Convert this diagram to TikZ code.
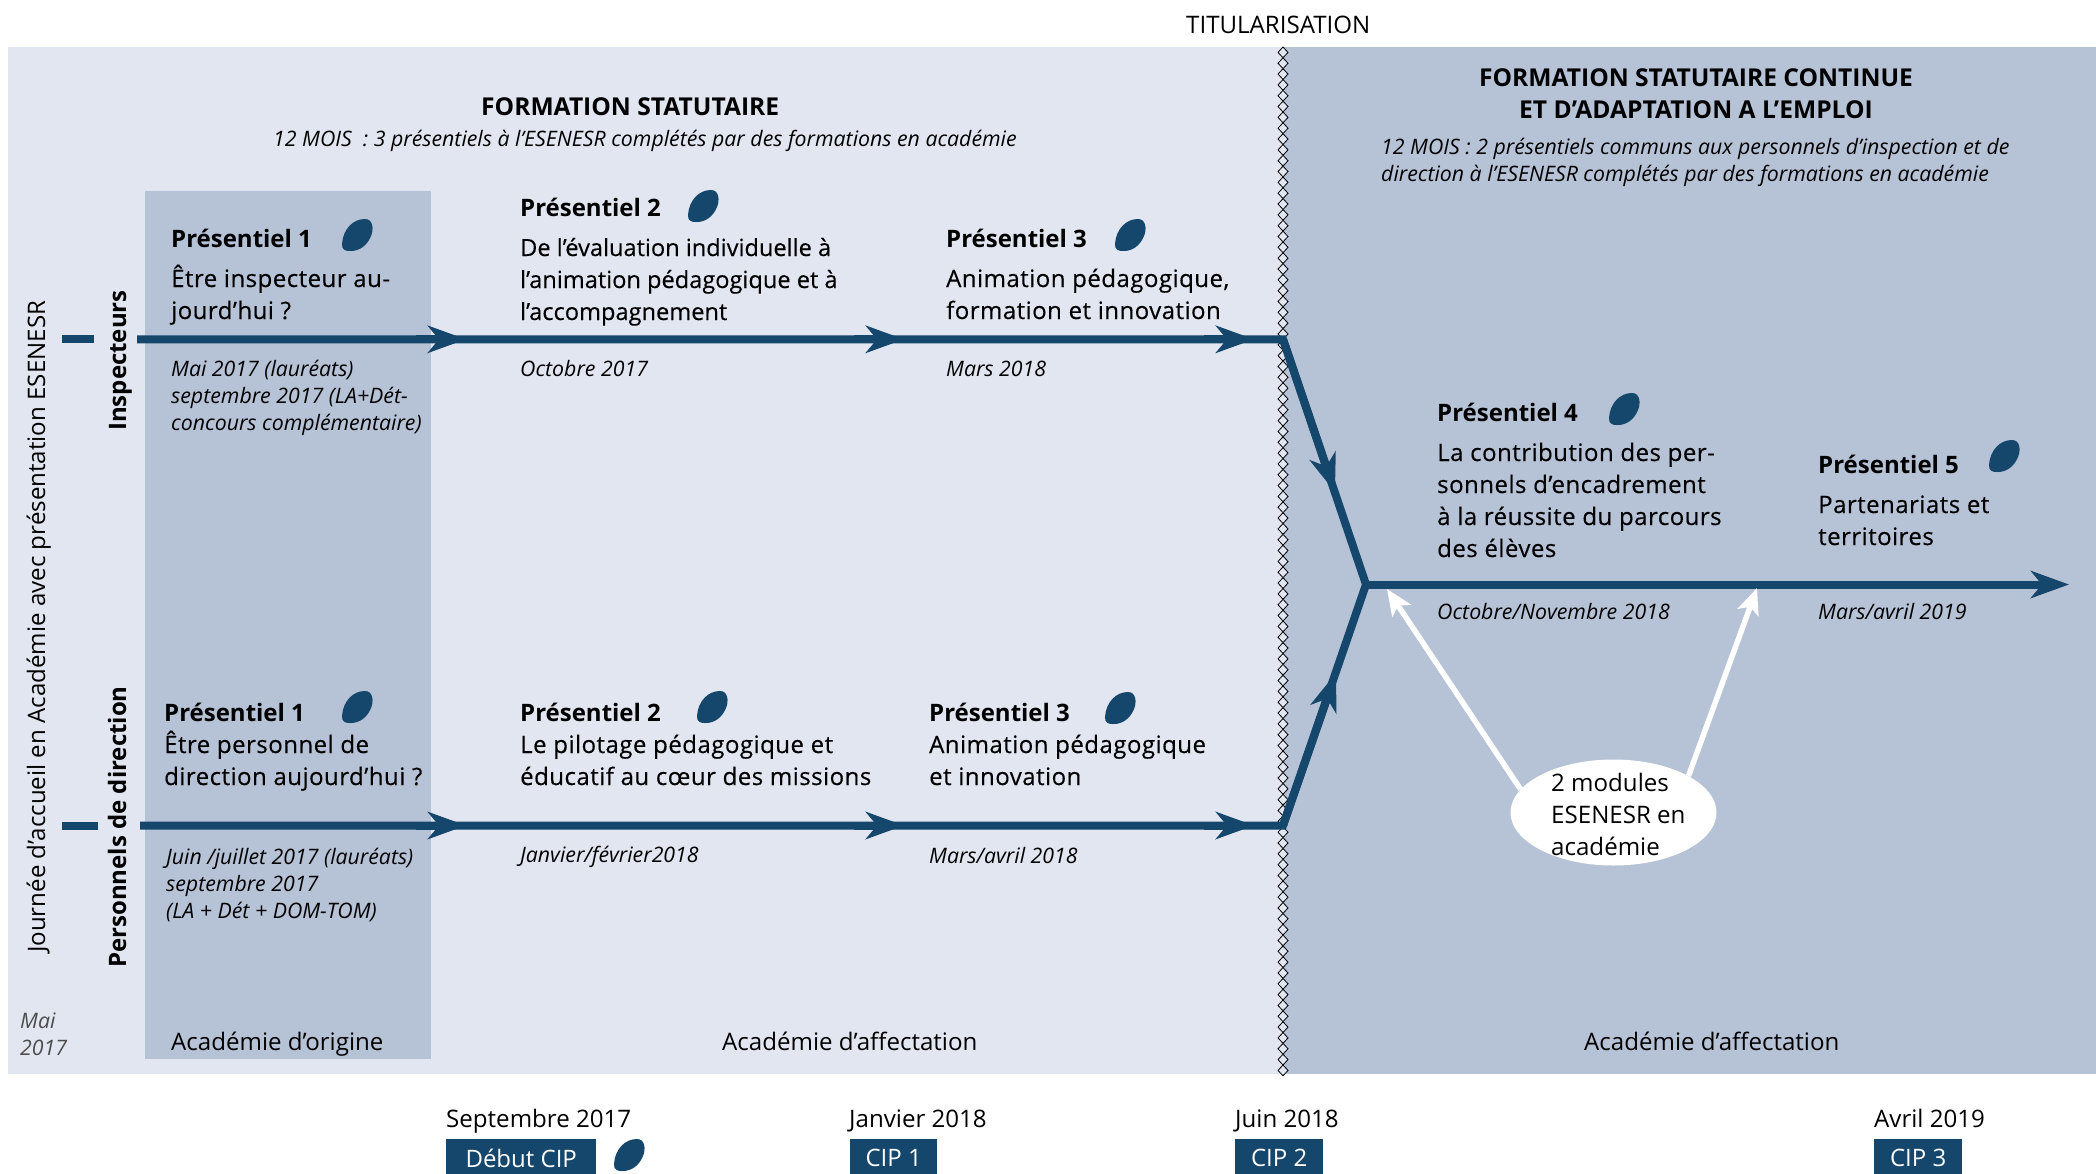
\documentclass[tikz,border=0pt]{standalone}
\usepackage{fontspec}
\setmainfont{Open Sans}
\newfontfamily\semifont{Open Sans}[FakeBold=0.3,LetterSpace=2]
\newfontfamily\semitight{Open Sans}[FakeBold=0.3]
\usetikzlibrary{arrows.meta}
\usetikzlibrary{positioning}
\usetikzlibrary{shapes.geometric}
\definecolor{navy}{HTML}{15466B}
\definecolor{pale}{HTML}{E2E6F0}
\definecolor{mid}{HTML}{B6C2D6}
\tikzset{
  head/.style={anchor=base west, inner sep=0pt, align=left, font=\fontsize{24}{32}\selectfont\bfseries},
  body/.style={anchor=base west, inner sep=0pt, align=left, font=\fontsize{24}{32}\selectfont\semifont},
  date/.style={anchor=base west, inner sep=0pt, align=left, font=\fontsize{21.3}{27}\selectfont\itshape},
  plain/.style={anchor=base west, inner sep=0pt, align=left, font=\fontsize{24.1}{32}\selectfont},
  cip/.style={fill=navy, text=white, inner sep=0pt, minimum height=38pt, anchor=north west, font=\fontsize{24}{32}\selectfont},
  route/.style={draw=navy, line width=8pt},
  tipped/.style={route, -{Stealth[length=38pt, width=27pt, inset=11pt]}},
  pale arrow/.style={draw=white, line width=5.5pt, -{Stealth[length=26pt, width=22pt, inset=6pt]}},
  leaf/.pic={
    \fill[navy] (-15,9) .. controls (-14,-6) and (-4,-16) .. (8,-16) .. controls (16,-16) and (17,-6) .. (14,1) .. controls (10,11) and (2,16) .. (-6,16) .. controls (-11,16.5) and (-15.5,15) .. (-15,9) -- cycle;
  }
}
\begin{document}
\begin{tikzpicture}[x=1pt, y=-1pt]
  \useasboundingbox (0,0) rectangle (2096,1173);

  % panels
  \fill[pale] (8,47) rectangle (1283,1074);
  \fill[mid] (1283,47) rectangle (2096,1074);
  \fill[mid] (145,191) rectangle (431,1059);
  \foreach \k in {0,...,94}
    \draw[black, line width=0.8pt, fill=pale] (1283,47+\k*10.83) -- ++(5,5.4) -- ++(-5,5.4) -- ++(-5,-5.4) -- cycle;

  \node[plain] (titul) at (1186,33) {TITULARISATION};

  \node[head, font=\fontsize{24.6}{32}\selectfont\bfseries] (fs) at (481,115) {FORMATION STATUTAIRE};
  \node[date] (fsd) at (273,146) {12 MOIS \ : 3 présentiels à l’ESENESR complétés par des formations en académie};
  \node[head, font=\fontsize{24.6}{32}\selectfont\bfseries, anchor=base, align=center] (fc) at (1696,118) {FORMATION STATUTAIRE CONTINUE\\ET D’ADAPTATION A L’EMPLOI};
  \node[date] (fcd) at (1381,181) {12 MOIS : 2 présentiels communs aux personnels d’inspection et de\\direction à l’ESENESR complétés par des formations en académie};

  % side labels
  \node[plain, rotate=90] (jour) at (45,953) {Journée d’accueil en Académie avec présentation ESENESR};
  \node[head, rotate=90] (insp) at (126,431) {Inspecteurs};
  \node[head, rotate=90] (pers) at (126,968) {Personnels de direction};
  \node[date, text=black!70] (mai) at (20,1055) {Mai\\2017};

  % top row
  \node[head] (ia) at (171,247) {Présentiel 1};
  \node[body] (iat) at (171,319) {Être inspecteur au-\\jourd’hui ?};
  \node[date] (iad) at (171,430) {Mai 2017 (lauréats)\\septembre 2017 (LA+Dét-\\concours complémentaire)};
  \node[head] (ib) at (520,216) {Présentiel 2};
  \node[body, font=\fontsize{23.6}{32}\selectfont\semitight] (ibt) at (520,320) {De l’évaluation individuelle à\\l’animation pédagogique et à\\l’accompagnement};
  \node[date] (ibd) at (520,376) {Octobre 2017};
  \node[head] (ic) at (946,247) {Présentiel 3};
  \node[body] (ict) at (946,319) {Animation pédagogique,\\formation et innovation};
  \node[date] (icd) at (946,376) {Mars 2018};

  % bottom row
  \node[head] (da) at (164,721) {Présentiel 1};
  \node[body] (dat) at (164,785) {Être personnel de\\direction aujourd’hui ?};
  \node[date] (dad) at (166,918) {Juin /juillet 2017 (lauréats)\\septembre 2017\\(LA + Dét + DOM-TOM)};
  \node[head] (db) at (520,721) {Présentiel 2};
  \node[body] (dbt) at (520,785) {Le pilotage pédagogique et\\éducatif au cœur des missions};
  \node[date] (dbd) at (520,862) {Janvier/février2018};
  \node[head] (dc) at (929,721) {Présentiel 3};
  \node[body] (dct) at (929,785) {Animation pédagogique\\et innovation};
  \node[date] (dcd) at (929,863) {Mars/avril 2018};

  % right part
  \node[head] (pd) at (1437,421) {Présentiel 4};
  \node[body] (pdt) at (1437,557) {La contribution des per-\\sonnels d’encadrement\\à la réussite du parcours\\des élèves};
  \node[date] (pdd) at (1437,619) {Octobre/Novembre 2018};
  \node[head] (pe) at (1818,473) {Présentiel 5};
  \node[body] (pet) at (1818,545) {Partenariats et\\territoires};
  \node[date] (ped) at (1818,619) {Mars/avril 2019};

  \node[plain] (orig) at (171,1050) {Académie d’origine};
  \node[plain] (aff) at (722,1050) {Académie d’affectation};
  \node[plain] (affr) at (1584,1050) {Académie d’affectation};

  % the routes
  \coordinate (is) at (137,339.3);
  \coordinate (ds) at (140,825.5);
  \coordinate (ie) at (1283,339.3);
  \coordinate (de) at (1283,825.5);
  \coordinate (join) at (1366,584.5);
  \coordinate (lt) at (2045,584.5);
  \coordinate (last) at (2069,584.5);
  \draw[route] (62,339.3) coordinate (idl) -- (94,339.3) coordinate (idr);
  \draw[route] (62,825.5) coordinate (ddl) -- (98,825.5) coordinate (ddr);
  \draw[route, line cap=butt, line join=miter] (is) -- (ie) -- (join) -- (de) -- (ds);
  \draw[route] (join) -- (lt);
  \foreach \x/\nm in {466/a,904/b,1254/c} {
    \draw[tipped] (\x-50,339.3) coordinate (i\nm) -- (\x,339.3);
    \draw[tipped] (\x-50,825.5) coordinate (d\nm) -- (\x,825.5);
  }
  \draw[tipped] (ie) -- (1335,492) coordinate (it);
  \draw[tipped] (de) -- (1336,673) coordinate (dt);
  \draw[tipped] (lt) -- (last);

  % modules
  \coordinate (ma) at (1387,589);
  \coordinate (mb) at (1757,588);
  \node[ellipse, fill=white, inner sep=0pt, minimum width=206pt, minimum height=106pt] (mod) at (1613.5,812.5) {};
  \node[plain] (modt) at (1551,855) {2 modules\\ESENESR en\\académie};
  \draw[pale arrow] (mod.166) -- (ma);
  \draw[pale arrow] (mod.26) -- (mb);

  % leaves
  \foreach \x/\y in {357/235,703/206,1130/235,1624/409,2004/456,357/707,712/707,1120/708,629/1155}
    \pic at (\x,\y) {leaf};

  % calendar
  \node[plain] (sep) at (446,1127) {Septembre 2017};
  \node[plain] (jan) at (849,1127) {Janvier 2018};
  \node[plain] (jui) at (1235,1127) {Juin 2018};
  \node[plain] (avr) at (1874,1127) {Avril 2019};
  \node[cip, minimum width=150pt] (c0) at (446,1139) {Début CIP};
  \node[cip, minimum width=87pt] (c1) at (850,1139) {CIP 1};
  \node[cip, minimum width=88pt] (c2) at (1235,1139) {CIP 2};
  \node[cip, minimum width=88pt] (c3) at (1874,1139) {CIP 3};
\end{tikzpicture}
\end{document}
